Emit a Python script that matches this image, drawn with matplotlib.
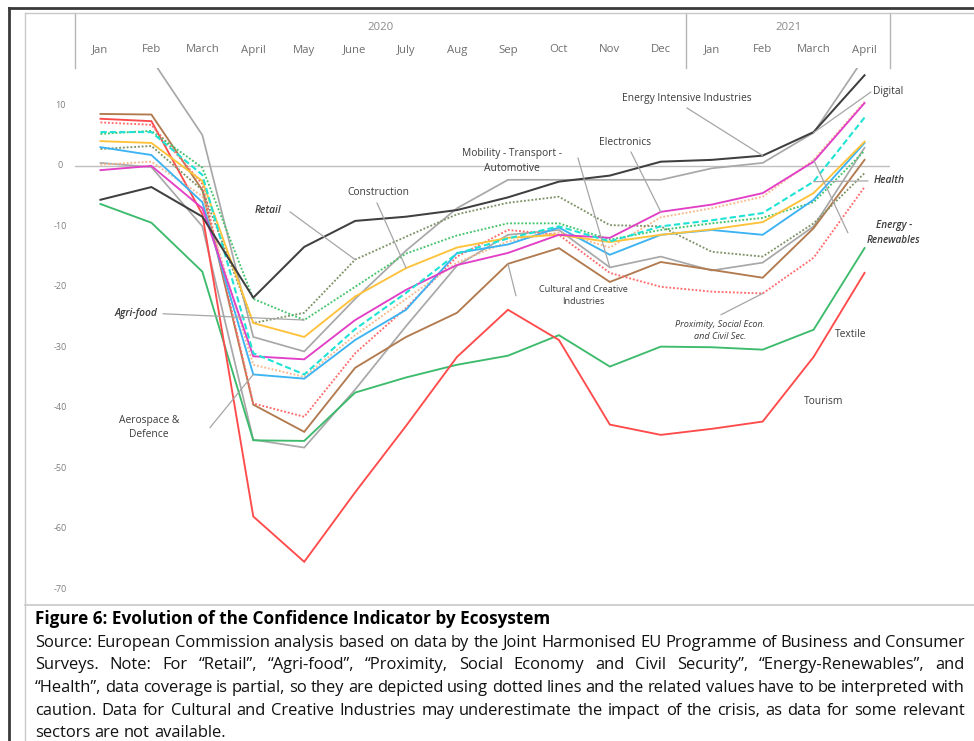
import matplotlib
matplotlib.use('Agg')
import matplotlib.pyplot as plt
from matplotlib.transforms import blended_transform_factory
from matplotlib.lines import Line2D

# ---------------- data ----------------
months = ['Jan', 'Feb', 'March', 'April', 'May', 'June', 'July', 'Aug', 'Sep',
          'Oct', 'Nov', 'Dec', 'Jan', 'Feb', 'March', 'April']
years = ['2020', '2021']
yticks = [10, 0, -10, -20, -30, -40, -50, -60, -70]

energy_intensive = [-5.6, -3.5, -8.4, -21.8, -13.4, -9.1, -8.4, -7.3, -5.2, -2.6, -1.6, 0.7, 1.0, 1.7, 5.6, 15.0]
digital          = [18.0, 17.7, 5.1, -28.3, -30.7, -22.0, -14.0, -7.0, -2.3, -2.3, -2.3, -2.3, -0.4, 0.5, 5.5, 18.0]
mobility         = [0.5, -0.2, -10.0, -45.3, -46.6, -37.0, -26.5, -16.5, -11.4, -10.6, -16.8, -15.0, -17.3, -16.0, -10.0, 3.0]
tourism          = [7.8, 7.4, -8.0, -58.0, -65.5, -54.0, -43.0, -31.6, -23.8, -28.8, -42.8, -44.5, -43.5, -42.3, -31.6, -17.7]
textile          = [-6.3, -9.4, -17.5, -45.4, -45.5, -37.5, -35.0, -32.9, -31.4, -28.0, -33.2, -29.9, -30.0, -30.4, -27.1, -13.6]
cultural         = [8.6, 8.5, -4.0, -39.5, -44.0, -33.4, -28.3, -24.3, -16.2, -13.6, -19.2, -15.9, -17.2, -18.5, -10.3, 1.0]
proximity        = [7.2, 6.8, -3.0, -39.3, -41.5, -31.0, -23.5, -15.0, -10.6, -11.4, -17.7, -20.0, -20.8, -21.1, -15.2, -3.5]
energy_renew     = [0.2, 0.7, -5.0, -32.9, -34.9, -28.0, -22.0, -16.0, -12.5, -11.0, -13.5, -8.5, -7.0, -5.1, 1.0, 10.6]
health           = [5.6, 5.6, -1.5, -31.0, -34.5, -27.0, -21.0, -14.5, -12.0, -10.0, -12.5, -10.0, -9.0, -7.8, -2.6, 8.0]
retail           = [2.8, 3.3, -4.0, -26.0, -24.3, -15.5, -11.7, -8.0, -6.1, -5.1, -9.8, -10.0, -14.2, -15.0, -9.5, -1.2]
agri_food        = [5.3, 5.8, -0.3, -22.0, -25.5, -20.0, -14.5, -11.5, -9.5, -9.5, -12.2, -10.6, -9.5, -8.6, -6.0, 2.5]
electronics      = [-0.7, 0.0, -7.0, -31.5, -32.0, -25.5, -20.5, -16.4, -14.4, -11.4, -11.9, -7.6, -6.4, -4.5, 0.7, 10.4]
construction     = [4.1, 3.8, -2.5, -26.0, -28.3, -21.6, -16.9, -13.5, -11.9, -11.4, -12.6, -11.4, -10.5, -9.3, -4.5, 4.0]
aerospace        = [3.1, 1.8, -6.0, -34.5, -35.2, -28.8, -23.8, -14.4, -13.0, -10.2, -14.7, -11.4, -10.6, -11.4, -5.6, 3.8]

caption_title = 'Figure 6: Evolution of the Confidence Indicator by Ecosystem'
caption_lines = [
    'Source: European Commission analysis based on data by the Joint Harmonised EU Programme of Business and Consumer',
    'Surveys. Note: For \u201cRetail\u201d, \u201cAgri-food\u201d, \u201cProximity, Social Economy and Civil Security\u201d, \u201cEnergy-Renewables\u201d, and',
    '\u201cHealth\u201d, data coverage is partial, so they are depicted using dotted lines and the related values have to be interpreted with',
    'caution. Data for Cultural and Creative Industries may underestimate the impact of the crisis, as data for some relevant',
    'sectors are not available.',
]

# ---------------- figure ----------------
W, H = 974, 741
FONT = ['Open Sans', 'DejaVu Sans']
plt.rcParams['font.family'] = FONT

fig = plt.figure(figsize=(W / 100, H / 100), dpi=100)


def fx(px):
    return px / W


def fy(py):
    return 1 - py / H


ax = fig.add_axes([fx(75), fy(589), fx(890) - fx(75), fy(68) - fy(589)])
ax.set_xlim(-0.5, len(months) - 0.5)
ax.set_ylim(-70, 16.2)
ax.axis('off')

# zero line
ax.axhline(0, color='#bfbfbf', lw=1.0, zorder=1)

x = list(range(len(months)))
DOT = (0, (1, 1))
series = [
    (digital, '#a8a8a8', '-', 1.25),
    (mobility, '#a8a8a8', '-', 1.25),
    (textile, '#3dbb6c', '-', 1.35),
    (tourism, '#ff4b4b', '-', 1.35),
    (cultural, '#b27a4f', '-', 1.35),
    (proximity, '#ff6b6b', DOT, 1.35),
    (energy_renew, '#f7b98c', DOT, 1.35),
    (retail, '#7f9468', DOT, 1.35),
    (agri_food, '#45c46a', DOT, 1.35),
    (aerospace, '#3cb3f2', '-', 1.35),
    (construction, '#ffc23a', '-', 1.35),
    (electronics, '#e23fc6', '-', 1.35),
    (health, '#1fe3d4', (0, (3, 1.5)), 1.5),
    (energy_intensive, '#3f3f3f', '-', 1.45),
]
for vals, col, ls, lw in series:
    ax.plot(x, vals, color=col, linestyle=ls, lw=lw, zorder=3,
            solid_joinstyle='miter', clip_on=True)

# y tick labels
tr_y = blended_transform_factory(fig.transFigure, ax.transData)
for v in yticks:
    fig.text(fx(60), v, str(v), transform=tr_y, ha='center', va='center',
             fontsize=6.5, color='#7f7f7f')

# header: months and years
tr_x = blended_transform_factory(ax.transData, fig.transFigure)
for i, m in enumerate(months):
    fig.text(i, fy(50), m, transform=tr_x, ha='center', va='center',
             fontsize=8.2, color='#6f6f6f')
fig.text(5.5, fy(27), years[0], transform=tr_x, ha='center', va='center',
         fontsize=8.2, color='#8a8a8a')
fig.text(13.5, fy(27), years[1], transform=tr_x, ha='center', va='center',
         fontsize=8.2, color='#8a8a8a')
for xv in (-0.5, 11.5, 15.5):
    fig.add_artist(Line2D([xv, xv], [fy(13), fy(68)], transform=tr_x,
                          color='#b5b5b5', lw=1.0))

# frames
fig.add_artist(Line2D([fx(9), fx(9)], [fy(8), 0], color='#3a3a3a', lw=2.0))
fig.add_artist(Line2D([fx(9), 1], [fy(8), fy(8)], color='#3a3a3a', lw=2.0))
fig.add_artist(Line2D([fx(25), fx(25)], [fy(13), 0], color='#c8c8c8', lw=1.0))
fig.add_artist(Line2D([fx(25), 1], [fy(13), fy(13)], color='#c8c8c8', lw=1.0))
fig.add_artist(Line2D([fx(25), 1], [fy(605), fy(605)], color='#c8c8c8', lw=1.2))


# labels with leader lines
def P(px, py):
    return ((px - 100.5) / 50.94, (166 - py) / 6.05)


LC = '#a6a6a6'
labels = [
    ('Energy Intensive Industries', (687, 99), 'normal', 7.4, (687, 108), energy_intensive, 13),
    ('Digital', (888, 92), 'normal', 7.4, (871, 92), digital, 14),
    ('Health', (889, 181), 'italic', 7.4, (868, 181), health, 14),
    ('Energy -\nRenewables', (894, 233), 'italic', 7.2, (848, 233), energy_renew, 14),
    ('Textile', (851, 335), 'normal', 7.4, None, None, None),
    ('Tourism', (824, 402), 'normal', 7.4, None, None, None),
    ('Proximity, Social Econ.\nand Civil Sec.', (720, 331), 'italic', 6.6, (721, 315), proximity, 13),
    ('Cultural and Creative\nIndustries', (583, 296), 'normal', 6.6, (516, 296), cultural, 8),
    ('Electronics', (625, 143), 'normal', 7.4, (631, 152), electronics, 11),
    ('Mobility - Transport -\nAutomotive', (512, 161), 'normal', 7.4, (578, 158), mobility, 10),
    ('Construction', (378, 193), 'normal', 7.4, (377, 203), construction, 6),
    ('Retail', (268, 211), 'italic', 7.4, (290, 212), retail, 5),
    ('Agri-food', (136, 314), 'italic', 7.4, (163, 314), agri_food, 4),
    ('Aerospace &\nDefence', (149, 428), 'normal', 7.4, (210, 428), aerospace, 3),
]
for text, pos, style, fs, lead, ser, idx in labels:
    ax.text(*P(*pos), text, ha='center', va='center', fontsize=fs,
            style=style, color='#3c3c3c', linespacing=1.45, zorder=5,
            fontweight='semibold' if (style == 'italic' and fs > 7) else 'normal')
    if lead is not None:
        ax.annotate('', xy=(idx, ser[idx]), xytext=P(*lead),
                    arrowprops=dict(arrowstyle='-', color=LC, lw=0.9,
                                    shrinkA=0, shrinkB=0), zorder=4,
                    annotation_clip=False)

# ---------------- caption (justified) ----------------
renderer = fig.canvas.get_renderer()
CAP_FS = 11.9
fig.text(fx(35), fy(619), caption_title, ha='left', va='center',
         fontsize=12.3, fontweight='bold', color='#000000')


def justify(line, py, last=False):
    words = line.split(' ')
    arts = []
    widths = []
    for w in words:
        t = fig.text(0, 0, w, fontsize=CAP_FS, ha='left', va='center',
                     color='#111111')
        widths.append(t.get_window_extent(renderer).width)
        arts.append(t)
    x0, x1 = 35, 965
    if last or len(words) == 1:
        sp = 0.26 * CAP_FS * 100 / 72
    else:
        sp = (x1 - x0 - sum(widths)) / (len(words) - 1)
    cur = x0
    for t, w in zip(arts, widths):
        t.set_position((fx(cur), fy(py)))
        cur += w + sp


ys = [643, 665, 688, 711, 733]
for i, (ln, py) in enumerate(zip(caption_lines, ys)):
    justify(ln, py, last=(i == len(caption_lines) - 1))

fig.savefig('out.png', dpi=100, facecolor='white')
